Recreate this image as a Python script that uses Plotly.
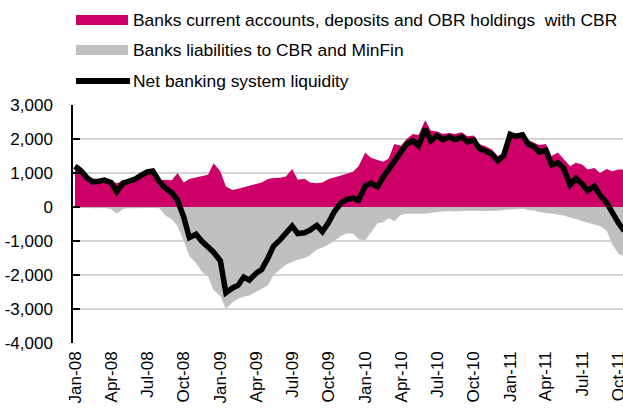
import pandas as pd
import plotly.graph_objects as go

# semi-monthly observation dates (1st and 15th), Jan-08 .. Oct-11
dates = pd.date_range("2008-01-01", "2011-10-15", freq="SMS")

# Banks current accounts, deposits and OBR holdings with CBR (RUB bn)
cbr_holdings = [
    1230, 1100, 870, 780, 800, 820, 780, 700, 760, 800, 860, 960,
    1050, 1080, 780, 800, 790, 1000, 720, 820, 870, 920, 950, 1290,
    1050, 600, 500, 540, 580, 640, 680, 720, 820, 850, 860, 900,
    1120, 800, 830, 720, 700, 720, 820, 860, 930, 980, 1040, 1200,
    1600, 1450, 1380, 1330, 1430, 1850, 1800, 2000, 2150, 2120, 2550, 2250,
    2220, 2150, 2180, 2150, 2200, 2080, 2100, 1850, 1780, 1700, 1500, 1600,
    2200, 2150, 2200, 1980, 1900, 1820, 1850, 1500, 1600, 1420, 1200, 1300,
    1250, 1100, 1150, 1000, 1120, 1050, 1100, 1100,
]

# Banks liabilities to CBR and MinFin (RUB bn, negative)
cbr_liabilities = [
    -30, -20, -20, -40, -40, -30, -60, -200, -60, -40, -40, -30,
    -20, -30, -40, -240, -370, -550, -1000, -1450, -1650, -1900, -2050, -2450,
    -2620, -3000, -2800, -2700, -2640, -2600, -2500, -2400, -2300, -2000, -1820, -1700,
    -1620, -1550, -1500, -1420, -1250, -1200, -1100, -1000, -850, -780, -780, -950,
    -980, -750, -480, -450, -330, -420, -230, -200, -200, -220, -200, -170,
    -140, -130, -120, -130, -120, -110, -110, -120, -120, -100, -110, -90,
    -70, -60, -50, -90, -100, -150, -170, -200, -220, -250, -300, -350,
    -420, -460, -520, -560, -700, -1100, -1380, -1450,
]

# Net banking system liquidity (RUB bn)
net_liquidity = [
    1200, 1080, 850, 740, 760, 790, 720, 450, 700, 760, 820, 930,
    1030, 1060, 740, 560, 420, 200, -300, -900, -800, -1000, -1150, -1330,
    -1580, -2520, -2380, -2300, -2060, -2150, -1950, -1840, -1500, -1150, -960, -760,
    -560, -780, -760, -680, -540, -720, -450, -140, 120, 220, 260, 200,
    620, 700, 600, 880, 1100, 1380, 1620, 1850, 1950, 1800, 2300, 1950,
    2100, 1980, 2060, 1980, 2060, 1920, 1970, 1720, 1640, 1560, 1360, 1500,
    2140, 2080, 2120, 1850, 1780, 1620, 1670, 1240, 1300, 1150, 650, 840,
    680, 480, 620, 350, 120, -180, -480, -700,
]

series_names = [
    "Banks current accounts, deposits and OBR holdings  with CBR",
    "Banks liabilities to CBR and MinFin",
    "Net banking system liquidity",
]

y_ticks = [-4000, -3000, -2000, -1000, 0, 1000, 2000, 3000]
y_labels = ["-4,000", "-3,000", "-2,000", "-1,000", "0", "1,000", "2,000", "3,000"]

x_ticks = pd.date_range("2008-01-01", "2011-10-01", freq="QS")
x_labels = [d.strftime("%b-%y") for d in x_ticks]

PINK = "#CC0066"
GREY = "#C0C0C0"
FONT = "Liberation Sans, Arial, sans-serif"

W, H = 623, 409
L, R, T, B = 73, 0, 105, 66

fig = go.Figure()
fig.add_trace(go.Scatter(
    x=dates, y=cbr_holdings, mode="lines", fill="tozeroy",
    line=dict(width=0, color=PINK), fillcolor=PINK, name=series_names[0],
))
fig.add_trace(go.Scatter(
    x=dates, y=cbr_liabilities, mode="lines", fill="tozeroy",
    line=dict(width=0, color=GREY), fillcolor=GREY, name=series_names[1],
))
fig.add_trace(go.Scatter(
    x=dates, y=net_liquidity, mode="lines",
    line=dict(width=5.5, color="black"), name=series_names[2],
))

# zero line sits over the fills but under the net line
fig.add_shape(type="line", xref="paper", x0=0, x1=1, yref="y", y0=0, y1=0,
              line=dict(color="black", width=1.5), layer="between")


# hand-made legend (pixel positions converted to paper coords)
def px(x):
    return (x - L) / (W - L - R)


def py(y):
    return (H - B - y) / (H - T - B)


legend_rows = [(20, "rect", PINK), (50, "rect", GREY), (81, "line", "black")]
for (yc, kind, col), label in zip(legend_rows, series_names):
    if kind == "rect":
        fig.add_shape(type="rect", xref="paper", yref="paper",
                      x0=px(76), x1=px(128), y0=py(yc - 5), y1=py(yc + 5),
                      fillcolor=col, line_width=0)
    else:
        fig.add_shape(type="line", xref="paper", yref="paper",
                      x0=px(76), x1=px(130), y0=py(yc), y1=py(yc),
                      line=dict(color=col, width=6))
    fig.add_annotation(text=label, xref="paper", yref="paper",
                       x=px(131), y=py(yc), xanchor="left", yanchor="middle",
                       showarrow=False, font=dict(size=17.4, color="black", family=FONT))

fig.update_layout(
    width=W, height=H,
    margin=dict(l=L, r=R, t=T, b=B, autoexpand=False),
    paper_bgcolor="white", plot_bgcolor="white",
    showlegend=False,
    font=dict(family=FONT, size=17, color="black"),
    xaxis=dict(
        range=["2007-12-27", "2011-10-12"],
        tickvals=x_ticks, ticktext=x_labels, tickangle=-90,
        showgrid=False, showline=False, zeroline=False, ticks="",
        ticklabelstandoff=4, ticklabeloverflow="allow", automargin=False,
        tickfont=dict(size=17),
    ),
    yaxis=dict(
        range=[-4000, 3000],
        tickvals=y_ticks, ticktext=y_labels,
        showgrid=True, gridcolor="#D4D4D4", gridwidth=1.5,
        zeroline=False,
        showline=True, linecolor="black", linewidth=1.5,
        ticks="inside", ticklen=7, tickcolor="black", tickwidth=1.5,
        ticklabelstandoff=15, automargin=False,
        tickfont=dict(size=17),
    ),
)

# drop the browser's default 8px body margin so the figure fills the window
fig.write_html("out.html", config={"displayModeBar": False},
               post_script="document.body.style.margin = '0';")
